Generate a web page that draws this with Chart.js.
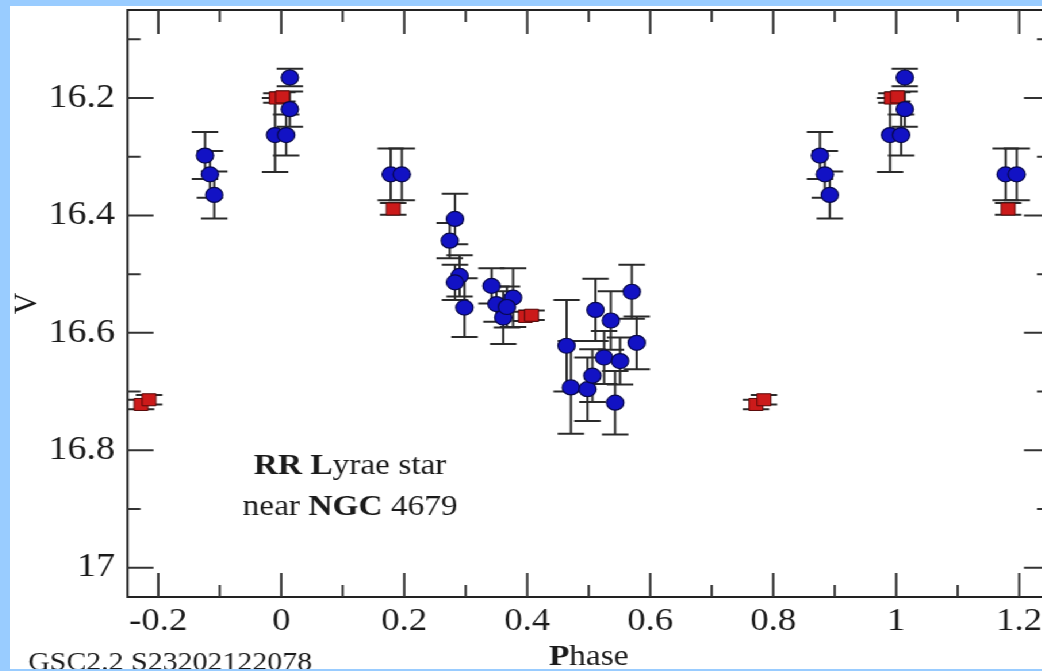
<!DOCTYPE html>
<html><head><meta charset="utf-8">
<script src="https://cdn.jsdelivr.net/npm/chart.js@4.4.1/dist/chart.umd.min.js"></script>
<style>
html,body{margin:0;padding:0;width:1042px;height:671px;overflow:hidden;background:#99ccff;}
#wrap{position:absolute;left:10px;top:6px;width:913px;height:663px;background:#ffffff;transform:scaleX(1.15);transform-origin:0 0;}
canvas{display:block;}
</style></head><body>
<div id="wrap"><canvas id="c"></canvas></div>
<script>
// ---- data (phase, V magnitude, error) ----
const blueX = [-0.124, -0.116, -0.109, 0.014, 0.014, -0.010, 0.008, 0.178, 0.196,
  0.2825, 0.274, 0.290, 0.2825, 0.298, 0.342, 0.350, 0.377, 0.361, 0.367,
  0.464, 0.471, 0.498, 0.506, 0.511, 0.536, 0.525, 0.551, 0.543, 0.570, 0.578,
  0.876, 0.884, 0.892, 1.014, 1.014, 0.990, 1.008, 1.178, 1.196];
const blueV = [16.298, 16.330, 16.365, 16.165, 16.219, 16.263, 16.263, 16.330, 16.330,
  16.406, 16.443, 16.503, 16.514, 16.557, 16.520, 16.551, 16.540, 16.574, 16.556,
  16.622, 16.693, 16.696, 16.673, 16.561, 16.579, 16.642, 16.648, 16.719, 16.530, 16.617,
  16.298, 16.330, 16.365, 16.165, 16.219, 16.263, 16.263, 16.330, 16.330];
const blueErr = [0.04, 0.04, 0.04, 0.015, 0.03, 0.063, 0.035, 0.044, 0.044,
  0.043, 0.03, 0.035, 0.03, 0.05, 0.03, 0.03, 0.05, 0.045, 0.035,
  0.078, 0.079, 0.054, 0.045, 0.053, 0.05, 0.045, 0.04, 0.054, 0.046, 0.045,
  0.04, 0.04, 0.04, 0.015, 0.03, 0.063, 0.035, 0.044, 0.044];
const redX = [-0.228, -0.215, -0.008, 0.002, 0.182, 0.397, 0.407, 0.772, 0.785, 0.992, 1.002, 1.182];
const redV = [16.722, 16.714, 16.200, 16.198, 16.389, 16.572, 16.570, 16.722, 16.714, 16.200, 16.198, 16.389];
const redErr = [0.008, 0.008, 0.008, 0.008, 0.01, 0.008, 0.008, 0.008, 0.008, 0.008, 0.008, 0.01];

// ---- axes ----
const xTicks = [-0.2, 0, 0.2, 0.4, 0.6, 0.8, 1, 1.2];
const xTickLabels = ['-0.2', '0', '0.2', '0.4', '0.6', '0.8', '1', '1.2'];
const xMinorTicks = [-0.1, 0.1, 0.3, 0.5, 0.7, 0.9, 1.1];
const yTicks = [16.2, 16.4, 16.6, 16.8, 17];
const yTickLabels = ['16.2', '16.4', '16.6', '16.8', '17'];
const yMinorTicks = [16.1, 16.3, 16.5, 16.7, 16.9];
const xTitle = [['P', true], ['hase', false]];
const yTitle = 'V';
const noteLine1 = [['RR L', true], ['yrae star', false]];
const noteLine2 = [['near ', false], ['NGC', true], [' 4679', false]];
const footText = 'GSC2.2 S23202122078';

const SERIF = "'Liberation Serif', 'Times New Roman', serif";
const INK = '#1a1a1a';

function drawMixed(ctx, parts, x0, baseline, size, center) {
  let total = 0;
  const widths = parts.map(p => {
    ctx.font = (p[1] ? 'bold ' : '') + size + 'px ' + SERIF;
    const w = ctx.measureText(p[0]).width; total += w; return w;
  });
  let x = center ? x0 - total / 2 : x0;
  ctx.textAlign = 'left'; ctx.textBaseline = 'alphabetic'; ctx.fillStyle = INK;
  parts.forEach((p, i) => {
    ctx.font = (p[1] ? 'bold ' : '') + size + 'px ' + SERIF;
    ctx.fillText(p[0], x, baseline); x += widths[i];
  });
}

const decor = {
  id: 'decor',
  beforeDatasetsDraw(chart) {
    const {ctx, chartArea: a, scales: {x, y}} = chart;
    ctx.save();
    // frame
    ctx.strokeStyle = '#222'; ctx.lineWidth = 2;
    ctx.strokeRect(a.left, a.top, a.right - a.left, a.bottom - a.top);
    // ticks (inward on all four sides)
    ctx.strokeStyle = '#333'; ctx.lineWidth = 2;
    const xt = (vals, len) => vals.forEach(v => {
      const px = x.getPixelForValue(v);
      ctx.beginPath(); ctx.moveTo(px, a.bottom); ctx.lineTo(px, a.bottom - len);
      ctx.moveTo(px, a.top); ctx.lineTo(px, a.top + len); ctx.stroke();
    });
    const yt = (vals, len) => vals.forEach(v => {
      const py = y.getPixelForValue(v);
      ctx.beginPath(); ctx.moveTo(a.left, py); ctx.lineTo(a.left + len, py);
      ctx.moveTo(a.right, py); ctx.lineTo(a.right - len, py); ctx.stroke();
    });
    xt(xTicks, 24); xt(xMinorTicks, 12);
    yt(yTicks, 22.6); yt(yMinorTicks, 11.3);
    // error bars
    ctx.strokeStyle = '#2a2a2a'; ctx.lineWidth = 2;
    const cap = 11.5;
    const bars = (xs, vs, es) => xs.forEach((xv, i) => {
      const px = x.getPixelForValue(xv);
      const p1 = y.getPixelForValue(vs[i] - es[i]);
      const p2 = y.getPixelForValue(vs[i] + es[i]);
      ctx.beginPath();
      ctx.moveTo(px, p1); ctx.lineTo(px, p2);
      ctx.moveTo(px - cap, p1); ctx.lineTo(px + cap, p1);
      ctx.moveTo(px - cap, p2); ctx.lineTo(px + cap, p2);
      ctx.stroke();
    });
    bars(blueX, blueV, blueErr);
    bars(redX, redV, redErr);
    ctx.restore();
  },
  afterDraw(chart) {
    const {ctx, chartArea: a, scales: {x, y}} = chart;
    ctx.save();
    // annotation
    const nx = x.getPixelForValue(0.112);
    drawMixed(ctx, noteLine1, nx, y.getPixelForValue(16.84), 29, true);
    drawMixed(ctx, noteLine2, nx, y.getPixelForValue(16.91), 29, true);
    // x axis title
    drawMixed(ctx, xTitle, (a.left + a.right) / 2, 659, 29, true);
    // star id
    ctx.font = '26px ' + SERIF; ctx.fillStyle = INK; ctx.textAlign = 'left'; ctx.textBaseline = 'alphabetic';
    ctx.fillText(footText, 15.7, 664);
    ctx.restore();
  }
};

new Chart(document.getElementById('c'), {
  type: 'scatter',
  data: {
    datasets: [
      {
        label: 'V (blue)',
        data: blueX.map((v, i) => ({x: v, y: blueV[i]})),
        pointStyle: 'circle', pointRadius: 7.5,
        backgroundColor: '#1212c4', borderColor: '#08084a', borderWidth: 1.2
      },
      {
        label: 'V (red)',
        data: redX.map((v, i) => ({x: v, y: redV[i]})),
        pointStyle: 'rect', pointRadius: 8.5,
        backgroundColor: '#cc1a1a', borderColor: '#5a0a0a', borderWidth: 1
      }
    ]
  },
  options: {
    responsive: true, maintainAspectRatio: false, animation: false,
    events: [],
    layout: {autoPadding: false, padding: {top: 4, right: 8.7, left: 0, bottom: 0}},
    plugins: {legend: {display: false}, tooltip: {enabled: false}},
    scales: {
      x: {
        type: 'linear', position: 'bottom', min: -0.25, max: 1.25,
        afterBuildTicks: s => { s.ticks = xTicks.map(v => ({value: v})); },
        afterFit: s => { s.height = 72; s.paddingLeft = 0; s.paddingRight = 0; },
        grid: {display: false, drawTicks: false}, border: {display: false},
        ticks: {padding: 5, color: INK, font: {family: SERIF, size: 32}, callback: (v, i) => xTickLabels[i]}
      },
      y: {
        type: 'linear', position: 'left', reverse: true, min: 16.05, max: 17.05,
        afterBuildTicks: s => { s.ticks = yTicks.map(v => ({value: v})); },
        afterFit: s => { s.width = 102.2; s.paddingTop = 0; s.paddingBottom = 0; },
        grid: {display: false, drawTicks: false}, border: {display: false},
        ticks: {padding: 10.9, color: INK, font: {family: SERIF, size: 33}, callback: (v, i) => yTickLabels[i]},
        title: {display: true, text: yTitle, color: INK, padding: {top: 0, bottom: 0}, font: {family: SERIF, size: 30, lineHeight: 1}}
      }
    }
  },
  plugins: [decor]
});
</script>
</body></html>
